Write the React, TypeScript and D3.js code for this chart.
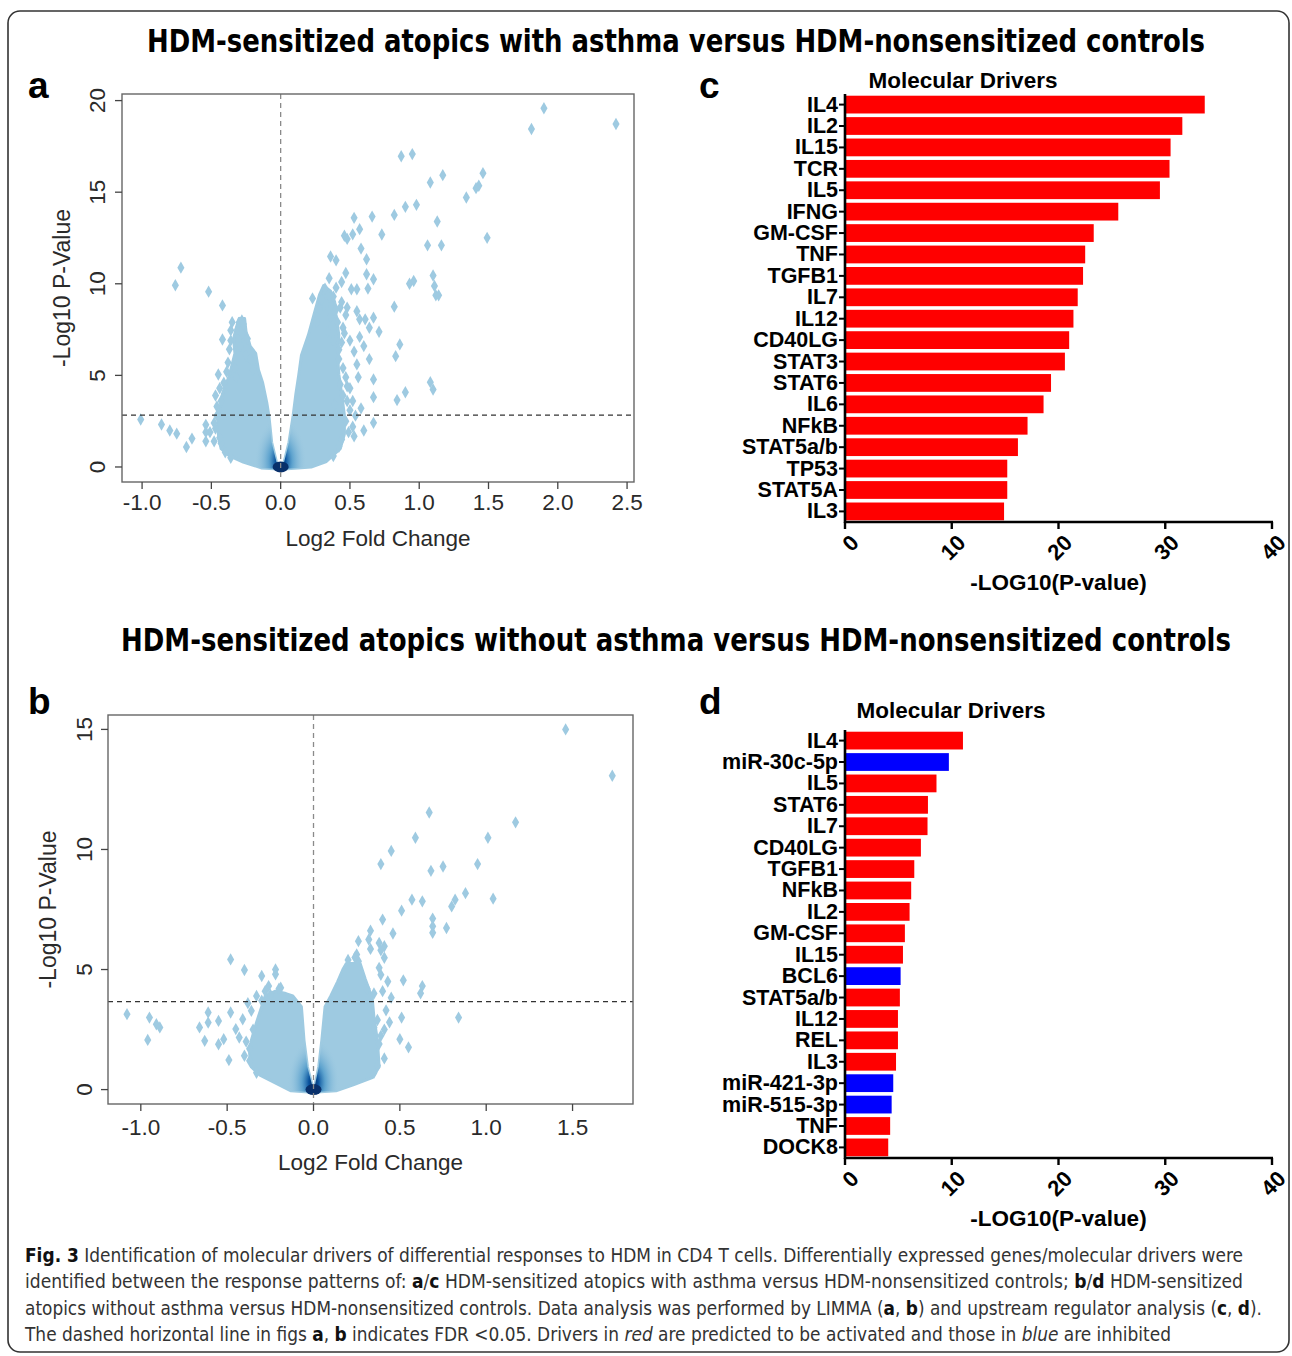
import * as d3 from "d3"

// ---- panel a / b: volcano plots (log2 FC, -log10 p) ----
const volcanoAPoints: [number, number][] = [
  [1.9, 19.58], [1.81, 18.45], [2.42, 18.72], [0.87, 16.96], [0.95, 17.08],
  [1.46, 16.04], [1.17, 15.93], [1.08, 15.53], [1.43, 15.35], [1.41, 15.22],
  [1.34, 14.71], [0.98, 14.31], [0.9, 14.2], [1.13, 13.4], [1.49, 12.51],
  [0.82, 13.76], [0.66, 13.67], [0.53, 13.6], [0.73, 12.69], [0.46, 12.62],
  [0.57, 12.98], [0.52, 12.7], [0.48, 12.45], [1.06, 12.1], [1.16, 12.1],
  [0.58, 11.92], [0.36, 11.49], [0.4, 11.28], [0.62, 11.34], [1.1, 10.45],
  [1.11, 9.88], [1.12, 9.37], [1.14, 9.37], [0.47, 10.59], [0.62, 10.52],
  [0.67, 10.25], [0.93, 10.0], [0.96, 10.15], [0.32, 9.74], [0.4, 9.79],
  [0.51, 9.7], [0.55, 9.7], [0.63, 9.74], [0.3, 9.1], [0.82, 8.75],
  [0.43, 8.7], [0.48, 8.7], [0.55, 8.5], [0.57, 8.06], [0.61, 8.06],
  [0.67, 8.15], [0.71, 7.38], [0.64, 7.6], [0.86, 6.69], [0.83, 6.05],
  [0.64, 5.89], [0.67, 4.78], [1.08, 4.63], [1.1, 4.23], [0.9, 4.08],
  [0.84, 3.65], [0.67, 3.81], [0.67, 2.41], [0.6, 1.99], [0.53, 1.68],
  [0.45, 5.4], [0.47, 4.9], [0.5, 4.3], [0.48, 3.6], [0.5, 3.1],
  [0.52, 2.2], [0.49, 1.9], [0.55, 5.6], [0.53, 6.3], [0.5, 6.9],
  [0.45, 7.6], [0.47, 8.3], [0.44, 9.0], [0.4, 8.6], [0.36, 8.2],
  [0.34, 7.4], [0.38, 6.9], [0.42, 6.4], [0.57, 7.1], [0.6, 6.6],
  [0.56, 4.9], [0.58, 3.2], [0.54, 2.8], [0.45, 3.9], [0.35, 10.3],
  [0.28, 8.6], [0.26, 7.9], [0.44, 10.1],
  [0.42, 5.9], [0.44, 6.8], [0.46, 7.3], [0.41, 7.9], [0.38, 9.3],
  [0.33, 8.9], [0.43, 4.5], [0.48, 4.4], [0.47, 2.5], [0.44, 1.5],
  [0.42, 1.1], [0.38, 0.6], [0.52, 3.6], [0.39, 3.4], [0.23, 9.2],
  [-0.72, 10.88], [-0.76, 9.92], [-0.52, 9.57], [-0.42, 8.82], [-0.36, 7.46],
  [-0.3, 7.88], [-0.28, 8.0], [-0.42, 6.96], [-0.37, 6.42], [-0.45, 5.05],
  [-1.01, 2.59], [-0.86, 2.32], [-0.8, 1.99], [-0.75, 1.82], [-0.68, 1.09],
  [-0.64, 1.55], [-0.54, 2.3], [-0.54, 1.9], [-0.54, 1.4], [-0.48, 1.4],
  [-0.35, 7.9], [-0.31, 7.5], [-0.28, 7.3], [-0.38, 5.7], [-0.33, 5.4],
  [-0.25, 6.1], [-0.41, 4.6], [-0.47, 3.9], [-0.46, 3.3], [-0.48, 2.4],
  [-0.51, 1.9], [-0.43, 1.3], [-0.39, 5.2], [-0.29, 6.6], [-0.22, 5.9],
  [-0.2, 5.3], [-0.44, 4.3], [-0.46, 2.8], [-0.47, 2.1], [-0.44, 1.6],
  [-0.4, 0.8], [-0.36, 0.5], [-0.36, 6.9], [-0.27, 7.8], [-0.24, 7.0],
  [-0.32, 4.9], [-0.43, 3.6],
]

// outline of the dense cloud of genes around the origin
const volcanoACloud: [number, number][] = [
  [-0.14, -0.05], [-0.27, 0.27], [-0.37, 0.6], [-0.43, 1.0], [-0.45, 1.8],
  [-0.45, 2.8], [-0.43, 3.5], [-0.42, 4.0], [-0.37, 5.0], [-0.35, 5.6],
  [-0.33, 6.2], [-0.34, 7.0], [-0.32, 7.6], [-0.3, 8.1], [-0.26, 8.1],
  [-0.25, 7.4], [-0.22, 6.6], [-0.18, 6.2], [-0.16, 5.3], [-0.13, 4.6],
  [-0.1, 3.5], [-0.085, 2.8], [-0.065, 1.35], [-0.03, 0.27], [0.0, 0.05],
  [0.025, 0.27], [0.06, 1.35], [0.09, 2.8], [0.11, 4.0], [0.13, 5.0],
  [0.15, 6.1], [0.2, 7.2], [0.24, 8.3], [0.28, 9.4], [0.31, 9.9],
  [0.36, 9.6], [0.39, 9.0], [0.4, 8.3], [0.42, 7.2], [0.41, 6.1],
  [0.42, 5.05], [0.44, 4.0], [0.46, 2.83], [0.46, 1.8], [0.43, 1.0],
  [0.33, 0.3], [0.22, 0.0], [0.05, -0.1], [-0.05, -0.1],
]

const volcanoBPoints: [number, number][] = [
  [1.46, 15.0], [1.73, 13.07], [0.67, 11.54], [1.17, 11.13], [0.59, 10.49],
  [1.01, 10.49], [0.45, 9.94], [0.39, 9.39], [0.95, 9.39], [0.68, 9.11],
  [0.75, 9.29], [0.88, 8.18], [0.82, 7.91], [0.8, 7.63], [1.04, 7.95],
  [0.57, 7.91], [0.63, 7.84], [0.51, 7.45], [0.4, 7.08], [0.69, 7.12],
  [0.69, 6.8], [0.69, 6.53], [0.77, 6.73], [0.33, 6.62], [0.46, 6.5],
  [0.32, 6.25], [0.26, 6.18], [0.38, 6.11], [0.33, 5.86], [0.41, 5.97],
  [0.39, 5.8], [0.25, 5.63], [0.26, 5.35], [0.41, 5.49], [0.38, 5.07],
  [0.52, 4.55], [0.63, 4.31], [0.62, 4.01], [0.45, 3.83], [0.39, 4.78],
  [0.43, 4.5], [0.4, 4.1], [0.51, 3.0], [0.84, 3.0], [0.41, 2.5],
  [0.39, 2.24], [0.5, 2.1], [0.55, 1.76], [0.41, 1.3], [0.35, 2.59],
  [0.42, 3.3], [0.44, 2.8], [0.37, 2.9], [0.38, 1.9], [0.37, 1.0],
  [0.35, 0.7], [0.31, 4.2], [0.35, 4.0], [0.2, 5.4], [0.24, 5.5],
  [-0.48, 5.42], [-0.4, 4.98], [-0.22, 5.0], [-0.22, 4.8], [-0.3, 4.73],
  [-0.26, 4.31], [-0.19, 4.24], [-1.08, 3.14], [-0.95, 3.0], [-0.91, 2.72],
  [-0.89, 2.59], [-0.96, 2.07], [-0.61, 3.21], [-0.66, 2.59], [-0.61, 2.79],
  [-0.55, 2.86], [-0.63, 2.03], [-0.48, 3.21], [-0.55, 1.89], [-0.52, 2.1],
  [-0.49, 1.23], [-0.45, 2.52], [-0.43, 2.17], [-0.4, 1.41], [-0.36, 3.28],
  [-0.41, 2.93], [-0.38, 3.6], [-0.33, 3.9], [-0.39, 2.0], [-0.37, 1.7],
  [-0.37, 1.2], [-0.33, 0.7], [-0.35, 2.5], [-0.3, 3.7], [-0.28, 4.1],
  [-0.25, 3.95], [-0.2, 4.2],
]

const volcanoBCloud: [number, number][] = [
  [-0.13, -0.05], [-0.21, 0.24], [-0.31, 0.6], [-0.36, 0.94], [-0.37, 1.5],
  [-0.36, 2.05], [-0.33, 2.8], [-0.3, 3.45], [-0.28, 3.9], [-0.22, 4.1],
  [-0.16, 4.0], [-0.12, 3.9], [-0.07, 3.45], [-0.055, 2.05], [-0.035, 0.94],
  [-0.01, 0.24], [0.0, 0.05], [0.01, 0.24], [0.03, 0.94], [0.048, 2.05],
  [0.067, 3.45], [0.1, 3.9], [0.14, 4.5], [0.17, 5.0], [0.19, 5.25],
  [0.27, 5.25], [0.3, 4.6], [0.34, 3.8], [0.35, 3.0], [0.37, 2.05],
  [0.38, 0.94], [0.34, 0.5], [0.23, 0.2], [0.13, -0.05], [0.02, -0.1],
  [-0.03, -0.1],
]

const volcanoAXTicks = [-1, -0.5, 0, 0.5, 1, 1.5, 2, 2.5]
const volcanoAYTicks = [0, 5, 10, 15, 20]
const volcanoBXTicks = [-1, -0.5, 0, 0.5, 1, 1.5]
const volcanoBYTicks = [0, 5, 10, 15]

// ---- panel c / d: upstream regulators ----
const driversC = [
  "IL4", "IL2", "IL15", "TCR", "IL5", "IFNG", "GM-CSF", "TNF", "TGFB1", "IL7",
  "IL12", "CD40LG", "STAT3", "STAT6", "IL6", "NFkB", "STAT5a/b", "TP53", "STAT5A", "IL3",
]
const driversCValues = [
  33.7, 31.6, 30.5, 30.4, 29.5, 25.6, 23.3, 22.5, 22.3, 21.8,
  21.4, 21.0, 20.6, 19.3, 18.6, 17.1, 16.2, 15.2, 15.2, 14.9,
]
const driversCState = driversC.map(() => "activated")

const driversD = [
  "IL4", "miR-30c-5p", "IL5", "STAT6", "IL7", "CD40LG", "TGFB1", "NFkB", "IL2", "GM-CSF",
  "IL15", "BCL6", "STAT5a/b", "IL12", "REL", "IL3", "miR-421-3p", "miR-515-3p", "TNF", "DOCK8",
]
const driversDValues = [
  11.05, 9.73, 8.57, 7.77, 7.73, 7.11, 6.49, 6.2, 6.05, 5.61,
  5.43, 5.21, 5.14, 4.96, 4.96, 4.78, 4.52, 4.37, 4.23, 4.05,
]
const driversDState = [
  "activated", "inhibited", "activated", "activated", "activated", "activated", "activated", "activated", "activated", "activated",
  "activated", "inhibited", "activated", "activated", "activated", "activated", "inhibited", "inhibited", "activated", "activated",
]
const barTicks = [0, 10, 20, 30, 40]

const RFONT = "'Liberation Sans', Arial, sans-serif"
const NARROW = "'Liberation Sans Narrow', 'DejaVu Sans Condensed', 'Open Sans', sans-serif"
const PT = "#9ecae1"

interface VolcanoProps {
  id: string
  points: [number, number][]
  cloud: [number, number][]
  xDomain: [number, number]
  yDomain: [number, number]
  box: { l: number; r: number; t: number; b: number }
  xTicks: number[]
  yTicks: number[]
  fdr: number
  yLabelX: number
  yTitleX: number
  xLabelY: number
  xTitleY: number
}

function Volcano(p: VolcanoProps) {
  const x = d3.scaleLinear().domain(p.xDomain).range([p.box.l, p.box.r])
  const y = d3.scaleLinear().domain(p.yDomain).range([p.box.b, p.box.t])
  const cloudPath =
    d3
      .line<[number, number]>()
      .x((d) => x(d[0]))
      .y((d) => y(d[1]))
      .curve(d3.curveLinearClosed)(p.cloud) || ""
  const diamond = d3.symbol().type(d3.symbolDiamond).size(44)() || ""
  const midX = (p.box.l + p.box.r) / 2
  const midY = (p.box.t + p.box.b) / 2

  return (
    <g style={{ fontFamily: RFONT }}>
      <defs>
        <clipPath id={`cloud-${p.id}`}>
          <path d={cloudPath} />
        </clipPath>
        <radialGradient id={`core-${p.id}`}>
          <stop offset="0%" stopColor="#08306b" />
          <stop offset="18%" stopColor="#08519c" />
          <stop offset="45%" stopColor="#4292c6" stopOpacity={0.7} />
          <stop offset="100%" stopColor={PT} stopOpacity={0} />
        </radialGradient>
      </defs>

      {/* dense cloud */}
      <path d={cloudPath} fill={PT} stroke={PT} strokeWidth={3} strokeLinejoin="round" />
      <g clipPath={`url(#cloud-${p.id})`}>
        <ellipse cx={x(0)} cy={y(0.3)} rx={26} ry={44} fill={`url(#core-${p.id})`} />
      </g>
      <ellipse cx={x(0)} cy={y(0)} rx={8} ry={5.5} fill="#08306b" />

      {p.points.map((d, i) => (
        <path key={i} d={diamond} transform={`translate(${x(d[0])},${y(d[1])})`} fill={PT} />
      ))}

      {/* reference lines */}
      <line
        x1={x(0)}
        x2={x(0)}
        y1={p.box.t}
        y2={p.box.b}
        stroke="#8a8a8a"
        strokeWidth={1.3}
        strokeDasharray="5,4"
      />
      <line
        x1={p.box.l}
        x2={p.box.r}
        y1={y(p.fdr)}
        y2={y(p.fdr)}
        stroke="#333"
        strokeWidth={1.3}
        strokeDasharray="5,4"
      />

      {/* box */}
      <rect
        x={p.box.l}
        y={p.box.t}
        width={p.box.r - p.box.l}
        height={p.box.b - p.box.t}
        fill="none"
        stroke="#666"
        strokeWidth={1.4}
      />

      {/* x axis */}
      {p.xTicks.map((t) => (
        <g key={t}>
          <line x1={x(t)} x2={x(t)} y1={p.box.b} y2={p.box.b + 7} stroke="#444" strokeWidth={1.3} />
          <text x={x(t)} y={p.xLabelY} textAnchor="middle" dominantBaseline="central" fontSize={22.5} fill="#2a2a2a">
            {t.toFixed(1)}
          </text>
        </g>
      ))}
      <text x={midX} y={p.xTitleY} textAnchor="middle" dominantBaseline="central" fontSize={22.5} fill="#2a2a2a">
        Log2 Fold Change
      </text>

      {/* y axis */}
      {p.yTicks.map((t) => (
        <g key={t}>
          <line x1={p.box.l - 7} x2={p.box.l} y1={y(t)} y2={y(t)} stroke="#444" strokeWidth={1.3} />
          <text
            transform={`translate(${p.yLabelX},${y(t)}) rotate(-90)`}
            textAnchor="middle"
            dominantBaseline="central"
            fontSize={22.5}
            fill="#2a2a2a"
          >
            {t}
          </text>
        </g>
      ))}
      <text
        transform={`translate(${p.yTitleX},${midY}) rotate(-90)`}
        textAnchor="middle"
        dominantBaseline="central"
        fontSize={23}
        fill="#2a2a2a"
      >
        -Log10 P-Value
      </text>
    </g>
  )
}

interface DriverProps {
  names: string[]
  values: number[]
  state: string[]
  x0: number
  x1: number
  top: number
  bottom: number
  titleX: number
  titleY: number
  axisTitleY: number
}

function DriverBars(p: DriverProps) {
  const x = d3.scaleLinear().domain([0, 40]).range([p.x0, p.x1])
  const y = d3.scaleBand().domain(p.names).range([p.top, p.bottom]).paddingInner(0.17).paddingOuter(0.08)
  const color = d3.scaleOrdinal<string, string>().domain(["activated", "inhibited"]).range(["#ff0000", "#0000ff"])

  return (
    <g style={{ fontFamily: RFONT, fontWeight: 700 }}>
      <text x={p.titleX} y={p.titleY} textAnchor="middle" fontSize={22.5}>
        Molecular Drivers
      </text>
      {p.names.map((n, i) => (
        <rect
          key={n}
          x={x(0)}
          y={y(n)!}
          width={x(p.values[i]) - x(0)}
          height={y.bandwidth()}
          fill={color(p.state[i])}
        />
      ))}
      {p.names.map((n) => (
        <g key={n}>
          <line
            x1={p.x0 - 6}
            x2={p.x0}
            y1={y(n)! + y.bandwidth() / 2}
            y2={y(n)! + y.bandwidth() / 2}
            stroke="#000"
            strokeWidth={2}
          />
          <text x={p.x0 - 7} y={y(n)! + y.bandwidth() / 2} textAnchor="end" dominantBaseline="central" fontSize={21.5}>
            {n}
          </text>
        </g>
      ))}
      <line x1={p.x0} x2={p.x0} y1={p.top} y2={p.bottom + 1} stroke="#000" strokeWidth={2.6} />
      <line x1={p.x0 - 1} x2={p.x1 + 1} y1={p.bottom} y2={p.bottom} stroke="#000" strokeWidth={2.6} />
      {barTicks.map((t) => (
        <g key={t}>
          <line x1={x(t)} x2={x(t)} y1={p.bottom} y2={p.bottom + 7} stroke="#000" strokeWidth={2.4} />
          <text
            transform={`translate(${x(t) + 4},${p.bottom + 11}) rotate(-45)`}
            textAnchor="end"
            dy="0.72em"
            fontSize={22}
          >
            {t}
          </text>
        </g>
      ))}
      <text x={x(20)} y={p.axisTitleY} textAnchor="middle" fontSize={22.5}>
        -LOG10(P-value)
      </text>
    </g>
  )
}

export default function App() {
  const bold = { fontWeight: 700, fill: "#111" }
  return (
    <svg
      width={1292}
      height={1356}
      viewBox="0 0 1292 1356"
      style={{ position: "absolute", left: 0, top: 0, background: "#fff" }}
    >
      <rect x={0} y={0} width={1292} height={1356} fill="#fff" />
      <rect x={8} y={11} width={1281} height={1341} rx={12} fill="none" stroke="#333" strokeWidth={1.6} />

      <text
        x={676}
        y={52}
        textAnchor="middle"
        fontFamily={NARROW}
        fontWeight={700}
        fontSize={32}
        textLength={1058}
        lengthAdjust="spacingAndGlyphs"
      >
        HDM-sensitized atopics with asthma versus HDM-nonsensitized controls
      </text>
      <text
        x={676}
        y={651}
        textAnchor="middle"
        fontFamily={NARROW}
        fontWeight={700}
        fontSize={32}
        textLength={1110}
        lengthAdjust="spacingAndGlyphs"
      >
        HDM-sensitized atopics without asthma versus HDM-nonsensitized controls
      </text>

      <g fontFamily={RFONT} fontWeight={700} fontSize={37}>
        <text x={28} y={98}>a</text>
        <text x={699} y={98}>c</text>
        <text x={28} y={714}>b</text>
        <text x={699} y={714}>d</text>
      </g>

      <Volcano
        id="a"
        points={volcanoAPoints}
        cloud={volcanoACloud}
        xDomain={[-1.145, 2.55]}
        yDomain={[-0.82, 20.36]}
        box={{ l: 122, r: 634, t: 94, b: 482 }}
        xTicks={volcanoAXTicks}
        yTicks={volcanoAYTicks}
        fdr={2.83}
        yLabelX={97}
        yTitleX={62}
        xLabelY={502}
        xTitleY={538}
      />
      <Volcano
        id="b"
        points={volcanoBPoints}
        cloud={volcanoBCloud}
        xDomain={[-1.19, 1.85]}
        yDomain={[-0.6, 15.6]}
        box={{ l: 108, r: 633, t: 715, b: 1104 }}
        xTicks={volcanoBXTicks}
        yTicks={volcanoBYTicks}
        fdr={3.66}
        yLabelX={84}
        yTitleX={48}
        xLabelY={1127}
        xTitleY={1162}
      />

      <DriverBars
        names={driversC}
        values={driversCValues}
        state={driversCState}
        x0={845}
        x1={1272}
        top={94}
        bottom={522}
        titleX={963}
        titleY={88}
        axisTitleY={590}
      />
      <DriverBars
        names={driversD}
        values={driversDValues}
        state={driversDState}
        x0={845}
        x1={1272}
        top={730}
        bottom={1158}
        titleX={951}
        titleY={718}
        axisTitleY={1226}
      />

      <g fontFamily={NARROW} fontSize={19} fill="#333">
        <text x={25} y={1262} textLength={1218} lengthAdjust="spacingAndGlyphs">
          <tspan {...bold}>Fig. 3</tspan> Identification of molecular drivers of differential responses to HDM in CD4 T cells. Differentially expressed genes/molecular drivers were
        </text>
        <text x={25} y={1288} textLength={1218} lengthAdjust="spacingAndGlyphs">
          identified between the response patterns of: <tspan {...bold}>a</tspan>/<tspan {...bold}>c</tspan> HDM-sensitized atopics with asthma versus HDM-nonsensitized controls; <tspan {...bold}>b</tspan>/<tspan {...bold}>d</tspan> HDM-sensitized
        </text>
        <text x={25} y={1315} textLength={1237} lengthAdjust="spacingAndGlyphs">
          atopics without asthma versus HDM-nonsensitized controls. Data analysis was performed by LIMMA (<tspan {...bold}>a</tspan>, <tspan {...bold}>b</tspan>) and upstream regulator analysis (<tspan {...bold}>c</tspan>, <tspan {...bold}>d</tspan>).
        </text>
        <text x={25} y={1341} textLength={1146} lengthAdjust="spacingAndGlyphs">
          The dashed horizontal line in figs <tspan {...bold}>a</tspan>, <tspan {...bold}>b</tspan> indicates FDR &lt;0.05. Drivers in <tspan fontStyle="italic">red</tspan> are predicted to be activated and those in <tspan fontStyle="italic">blue</tspan> are inhibited
        </text>
      </g>
    </svg>
  )
}
